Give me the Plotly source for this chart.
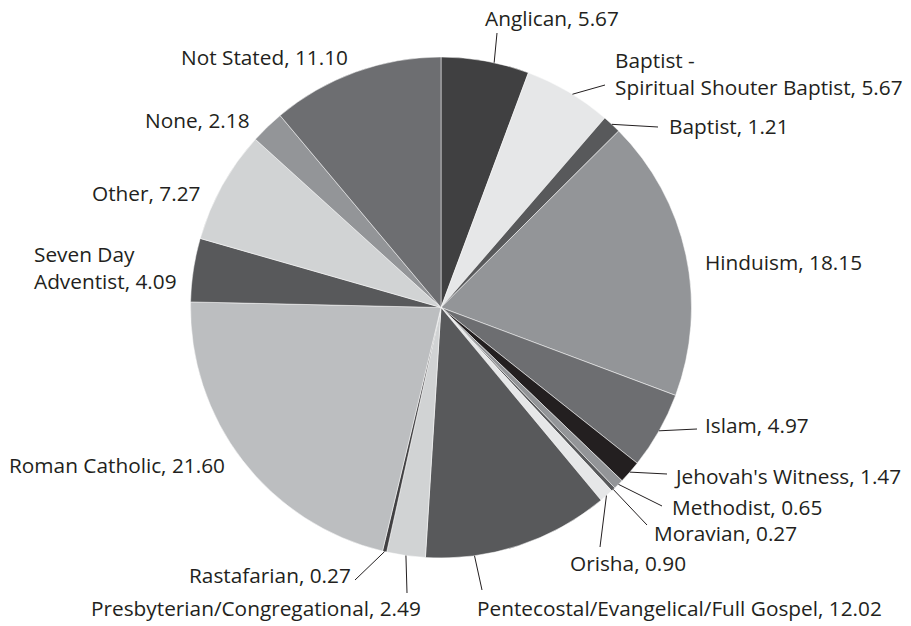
import math
import plotly.graph_objects as go

# ---- data ----
categories = [
    "Anglican", "Baptist - <br>Spiritual Shouter Baptist", "Baptist", "Hinduism", "Islam",
    "Jehovah's Witness", "Methodist", "Moravian", "Orisha",
    "Pentecostal/Evangelical/Full Gospel", "Presbyterian/Congregational",
    "Rastafarian", "Roman Catholic", "Seven Day<br>Adventist", "Other", "None", "Not Stated",
]
values = [5.67, 5.67, 1.21, 18.15, 4.97, 1.47, 0.65, 0.27, 0.90,
          12.02, 2.49, 0.27, 21.60, 4.09, 7.27, 2.18, 11.10]
value_labels = ["5.67", "5.67", "1.21", "18.15", "4.97", "1.47", "0.65", "0.27", "0.90",
                "12.02", "2.49", "0.27", "21.60", "4.09", "7.27", "2.18", "11.10"]

# ---- styles / layout ----
colors = ["#404041", "#e6e7e8", "#58595b", "#939598", "#6d6e71", "#231f20", "#939598",
          "#58595b", "#e6e7e8", "#58595b", "#d1d3d4", "#414042", "#bcbec0", "#58595b",
          "#d1d3d4", "#939598", "#6d6e71"]
W, H = 911, 626
CX, CY, R = 441, 307.5, 250.5
FONT = "Open Sans"
FS = 20.8
TXT = "#231f20"

# label placement (pixels): x, y, xanchor
label_pos = [
    (483, 18, "left"), (613, 74, "left"), (667, 126, "left"), (703, 262, "left"),
    (703, 425, "left"), (672, 476, "left"), (670, 507, "left"), (652, 533, "left"),
    (568, 563, "left"), (475, 608, "left"), (423, 608, "right"), (353, 575, "right"),
    (227, 465, "right"), (32, 267, "left"), (202, 193, "right"), (252, 120, "right"),
    (350, 57, "right"),
]
# leader line outer ends (pixels) and anchor fraction within slice; None = no line
leader_end = [
    (497, 33), (605, 85), (658, 127), None, (697, 429), (667, 474), (662, 506), (647, 525),
    (600, 547), (482, 590), (407, 593), (355, 580), None, None, None, None, None,
]
anchor_frac = [0.6, 0.55, 0.5, 0.5, 0.5, 0.5, 0.5, 0.5, 0.5, 0.74, 0.5, 0.5, 0.5, 0.5, 0.5, 0.5, 0.5]


def px(x):
    return x / W


def py(y):
    return 1 - y / H


fig = go.Figure(go.Pie(
    labels=categories, values=values, sort=False, direction="clockwise", rotation=0,
    marker=dict(colors=colors, line=dict(color="#ffffff", width=0.5)),
    textinfo="none", hoverinfo="skip", showlegend=False,
    domain=dict(x=[px(CX - R), px(CX + R)], y=[py(CY + R), py(CY - R)]),
))

total = sum(values)
cum = 0.0
shapes = []
annotations = []
for i, v in enumerate(values):
    frac = (cum + v * anchor_frac[i]) / total
    cum += v
    ang = 2 * math.pi * frac
    ex, ey = CX + R * math.sin(ang), CY - R * math.cos(ang)
    if leader_end[i] is not None:
        ox, oy = leader_end[i]
        shapes.append(dict(type="line", xref="paper", yref="paper",
                           x0=px(ex), y0=py(ey), x1=px(ox), y1=py(oy),
                           line=dict(color=TXT, width=1)))
    lx, ly, anc = label_pos[i]
    annotations.append(dict(
        text=f"{categories[i]}, {value_labels[i]}", x=px(lx), y=py(ly),
        xref="paper", yref="paper", xanchor=anc, yanchor="middle", align="left",
        showarrow=False, font=dict(family=FONT, size=FS, color=TXT),
    ))

fig.update_layout(
    width=W, height=H, margin=dict(l=0, r=0, t=0, b=0),
    paper_bgcolor="white", plot_bgcolor="white",
    shapes=shapes, annotations=annotations,
)
fig.write_html("out.html")
